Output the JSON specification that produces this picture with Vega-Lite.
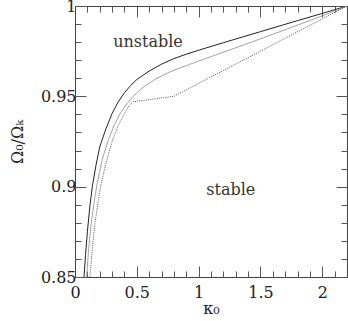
{
  "$schema": "https://vega.github.io/schema/vega-lite/v6.json",
  "width": 272,
  "height": 271,
  "autosize": {"type": "none"},
  "padding": {"left": 75, "top": 6, "right": 1, "bottom": 44},
  "background": "white",
  "config": {
    "view": {"stroke": null},
    "font": "DejaVu Serif",
    "axis": {
      "grid": false,
      "domainColor": "#444",
      "tickColor": "#555",
      "labelFont": "DejaVu Serif",
      "labelFontSize": 16,
      "labelColor": "#222",
      "titleFont": "DejaVu Serif",
      "titleFontSize": 16,
      "titleFontWeight": "normal",
      "titleColor": "#222"
    }
  },
  "datasets": {
    "curves": [
      {"series": "a", "k": 0.073, "r": 0.85},
      {"series": "a", "k": 0.085, "r": 0.862},
      {"series": "a", "k": 0.10, "r": 0.875},
      {"series": "a", "k": 0.12, "r": 0.889},
      {"series": "a", "k": 0.14, "r": 0.90},
      {"series": "a", "k": 0.17, "r": 0.912},
      {"series": "a", "k": 0.20, "r": 0.922},
      {"series": "a", "k": 0.25, "r": 0.932},
      {"series": "a", "k": 0.30, "r": 0.9405},
      {"series": "a", "k": 0.35, "r": 0.947},
      {"series": "a", "k": 0.40, "r": 0.952},
      {"series": "a", "k": 0.45, "r": 0.956},
      {"series": "a", "k": 0.50, "r": 0.9593},
      {"series": "a", "k": 0.60, "r": 0.964},
      {"series": "a", "k": 0.70, "r": 0.9678},
      {"series": "a", "k": 0.80, "r": 0.9709},
      {"series": "a", "k": 0.90, "r": 0.9733},
      {"series": "a", "k": 1.00, "r": 0.9755},
      {"series": "a", "k": 1.20, "r": 0.9797},
      {"series": "a", "k": 1.50, "r": 0.9858},
      {"series": "a", "k": 1.80, "r": 0.9919},
      {"series": "a", "k": 2.00, "r": 0.9959},
      {"series": "a", "k": 2.20, "r": 1.0},
      {"series": "b", "k": 0.094, "r": 0.85},
      {"series": "b", "k": 0.11, "r": 0.865},
      {"series": "b", "k": 0.13, "r": 0.879},
      {"series": "b", "k": 0.16, "r": 0.894},
      {"series": "b", "k": 0.18, "r": 0.902},
      {"series": "b", "k": 0.22, "r": 0.915},
      {"series": "b", "k": 0.27, "r": 0.926},
      {"series": "b", "k": 0.32, "r": 0.9345},
      {"series": "b", "k": 0.37, "r": 0.941},
      {"series": "b", "k": 0.42, "r": 0.946},
      {"series": "b", "k": 0.47, "r": 0.950},
      {"series": "b", "k": 0.55, "r": 0.955},
      {"series": "b", "k": 0.65, "r": 0.9595},
      {"series": "b", "k": 0.75, "r": 0.963},
      {"series": "b", "k": 0.85, "r": 0.9658},
      {"series": "b", "k": 1.00, "r": 0.9695},
      {"series": "b", "k": 1.50, "r": 0.9818},
      {"series": "b", "k": 2.00, "r": 0.9945},
      {"series": "b", "k": 2.20, "r": 1.0},
      {"series": "c", "k": 0.121, "r": 0.85},
      {"series": "c", "k": 0.14, "r": 0.866},
      {"series": "c", "k": 0.16, "r": 0.879},
      {"series": "c", "k": 0.19, "r": 0.893},
      {"series": "c", "k": 0.21, "r": 0.901},
      {"series": "c", "k": 0.25, "r": 0.913},
      {"series": "c", "k": 0.30, "r": 0.925},
      {"series": "c", "k": 0.35, "r": 0.934},
      {"series": "c", "k": 0.40, "r": 0.9405},
      {"series": "c", "k": 0.44, "r": 0.945},
      {"series": "c", "k": 0.47, "r": 0.947},
      {"series": "c", "k": 0.80, "r": 0.950},
      {"series": "c", "k": 2.20, "r": 1.0}
    ],
    "labels": [
      {"label": "unstable", "k": 0.59, "r": 0.980},
      {"label": "stable", "k": 1.26, "r": 0.898}
    ]
  },
  "layer": [
    {
      "data": {"name": "curves"},
      "transform": [{"filter": "datum.series === 'a'"}],
      "mark": {"type": "line", "color": "#222", "strokeWidth": 1, "clip": true},
      "encoding": {
        "x": {"field": "k", "type": "quantitative",
          "scale": {"domain": [0, 2.2], "nice": false, "zero": false},
          "axis": {"orient": "bottom", "values": [0, 0.5, 1, 1.5, 2], "format": "~g", "tickSize": -11, "labelPadding": 18, "title": "κ₀", "titlePadding": 0, "labelFlush": false}},
        "y": {"field": "r", "type": "quantitative",
          "scale": {"domain": [0.85, 1], "nice": false, "zero": false},
          "axis": {"orient": "left", "values": [0.85, 0.9, 0.95, 1], "format": "~g", "tickSize": -11, "labelPadding": 10, "title": "Ω₀/Ωₖ", "titlePadding": 15, "labelFlush": false}}
      }
    },
    {
      "data": {"name": "curves"},
      "transform": [{"filter": "datum.series === 'b'"}],
      "mark": {"type": "line", "color": "#999", "strokeWidth": 0.9, "clip": true},
      "encoding": {
        "x": {"field": "k", "type": "quantitative",
          "axis": {"orient": "bottom", "values": [0, 0.1, 0.2, 0.3, 0.4, 0.5, 0.6, 0.7, 0.8, 0.9, 1, 1.1, 1.2, 1.3, 1.4, 1.5, 1.6, 1.7, 1.8, 1.9, 2, 2.1, 2.2], "tickSize": -6, "labels": false, "domain": false, "title": null}},
        "y": {"field": "r", "type": "quantitative",
          "axis": {"orient": "left", "values": [0.85, 0.86, 0.87, 0.88, 0.89, 0.9, 0.91, 0.92, 0.93, 0.94, 0.95, 0.96, 0.97, 0.98, 0.99, 1], "tickSize": -6, "labels": false, "domain": false, "title": null}}
      }
    },
    {
      "data": {"name": "curves"},
      "transform": [{"filter": "datum.series === 'c'"}],
      "mark": {"type": "line", "color": "#444", "strokeWidth": 0.9, "strokeDash": [1, 1.2], "clip": true},
      "encoding": {
        "x": {"field": "k", "type": "quantitative",
          "axis": {"orient": "top", "values": [0, 0.5, 1, 1.5, 2], "tickSize": -11, "labels": false, "title": null}},
        "y": {"field": "r", "type": "quantitative",
          "axis": {"orient": "right", "values": [0.85, 0.9, 0.95, 1], "tickSize": -11, "labels": false, "title": null}}
      }
    },
    {
      "data": {"name": "labels"},
      "mark": {"type": "text", "font": "DejaVu Serif", "fontSize": 16, "color": "#333", "align": "center", "baseline": "middle"},
      "encoding": {
        "text": {"field": "label"},
        "x": {"field": "k", "type": "quantitative",
          "axis": {"orient": "top", "values": [0, 0.1, 0.2, 0.3, 0.4, 0.5, 0.6, 0.7, 0.8, 0.9, 1, 1.1, 1.2, 1.3, 1.4, 1.5, 1.6, 1.7, 1.8, 1.9, 2, 2.1, 2.2], "tickSize": -6, "labels": false, "domain": false, "title": null}},
        "y": {"field": "r", "type": "quantitative",
          "axis": {"orient": "right", "values": [0.85, 0.86, 0.87, 0.88, 0.89, 0.9, 0.91, 0.92, 0.93, 0.94, 0.95, 0.96, 0.97, 0.98, 0.99, 1], "tickSize": -6, "labels": false, "domain": false, "title": null}}
      }
    }
  ],
  "resolve": {"axis": {"x": "independent", "y": "independent"}}
}
